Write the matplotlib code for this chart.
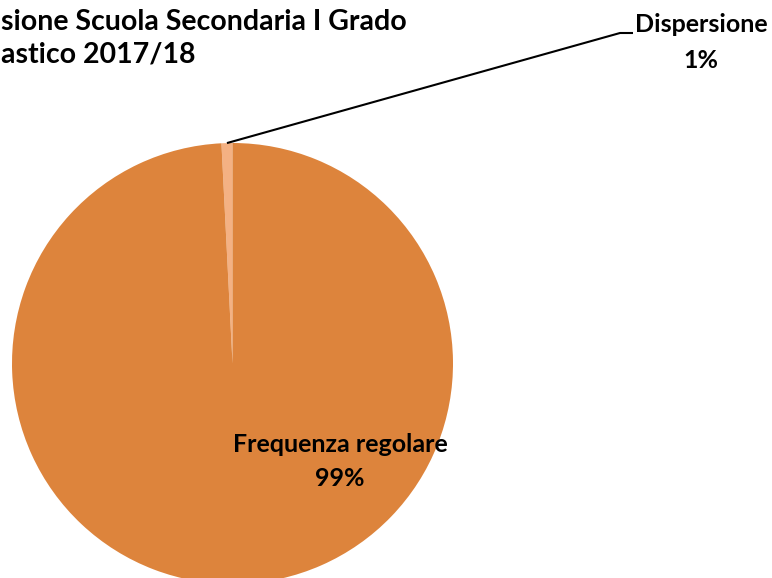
import numpy as np
import matplotlib.pyplot as plt

# data
labels = ['Dispersione', 'Frequenza regolare']
shares = [0.8, 99.2]
shown_pct = ['1%', '99%']
colors = ['#F4B183', '#DD843C']

# the title is cut at the left edge in the original; only the visible part is kept
title_lines = ['sione Scuola Secondaria I Grado', 'astico 2017/18']

plt.rcParams['font.family'] = ['Lato', 'DejaVu Sans']

fig = plt.figure(figsize=(7.72, 5.78), dpi=100)
ax = fig.add_axes([0, 0, 1, 1])

cx, cy, r = 232.5, 214.5, 220.5
wedges, _ = ax.pie(shares, colors=colors, startangle=90, counterclock=True,
                   center=(cx, cy), radius=r, frame=True,
                   wedgeprops={'linewidth': 0})
ax.set_xlim(0, 772)
ax.set_ylim(0, 578)
ax.set_aspect('equal')
ax.axis('off')

# leader line for the small slice
w = wedges[0]
mid = np.deg2rad((w.theta1 + w.theta2) / 2)
px, py = cx + r * np.cos(mid), cy + r * np.sin(mid)
ax.plot([px, 620, 633], [py, 545, 545], color='black', lw=1.5, solid_capstyle='butt')

ax.text(701, 553, labels[0], ha='center', va='center', fontsize=18, fontweight='bold')
ax.text(701, 518, shown_pct[0], ha='center', va='center', fontsize=18, fontweight='bold')
ax.text(340, 133, labels[1], ha='center', va='center', fontsize=18, fontweight='bold')
ax.text(340, 100, shown_pct[1], ha='center', va='center', fontsize=18, fontweight='bold')

ax.text(1, 556, title_lines[0], ha='left', va='center', fontsize=20.5, fontweight='bold')
ax.text(1, 523, title_lines[1], ha='left', va='center', fontsize=20.5, fontweight='bold')

fig.savefig('out.png', dpi=100)
